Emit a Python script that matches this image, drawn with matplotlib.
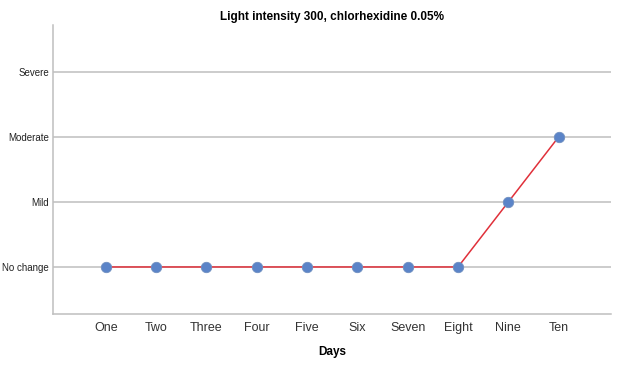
import numpy as np
import matplotlib.pyplot as plt

days = ["One", "Two", "Three", "Four", "Five", "Six", "Seven", "Eight", "Nine", "Ten"]
levels = ["No change", "Mild", "Moderate", "Severe"]
scores = [0, 0, 0, 0, 0, 0, 0, 0, 1, 2]

plt.rcParams['font.family'] = ['Liberation Sans', 'DejaVu Sans']

fig = plt.figure(figsize=(6.26, 3.67), dpi=100)
ax = fig.add_axes([53/626, 53/367, 558/626, 289/367])

x = np.arange(len(days))
for i in range(len(levels)):
    ax.axhline(i, color='#bfbfbf', lw=1.1, zorder=1)
ax.plot(x, scores, color='#e0303a', lw=1.1, zorder=2)
ax.plot(x, scores, ls='none', marker='o', ms=7.5, mfc='#5b84c8', mec='#6f8fc0', mew=0.6, zorder=3)

ax.set_xlim(-1.05, 10.04)
ax.set_ylim(-0.723, 3.72)
ax.set_xticks(x)
ax.set_xticklabels(days, fontsize=9, color='#333333')
ax.set_yticks(range(len(levels)))
ax.set_yticklabels(levels, fontsize=7, color='#222222')
ax.tick_params(length=0, pad=3)
ax.tick_params(axis='x', pad=6)

for s in ['top', 'right']:
    ax.spines[s].set_visible(False)
for s in ['left', 'bottom']:
    ax.spines[s].set_color('#bfbfbf')
    ax.spines[s].set_linewidth(1.1)

fig.text(332/626, 1 - 17/367, "Light intensity 300, chlorhexidine 0.05%", ha='center', va='center',
         fontsize=8.5, fontweight='bold')
fig.text(332/626, 1 - 352/367, "Days", ha='center', va='center', fontsize=8.5, fontweight='bold')

fig.savefig("out.png", dpi=100)
